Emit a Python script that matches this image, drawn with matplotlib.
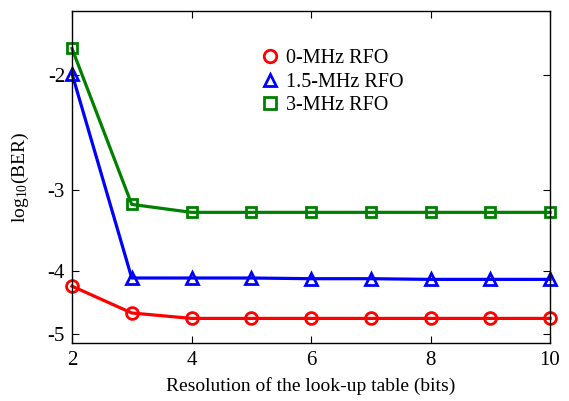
import numpy as np
import matplotlib
matplotlib.use("Agg")
import matplotlib.pyplot as plt
from matplotlib.lines import Line2D
from matplotlib.ticker import FixedLocator, NullLocator

plt.rcParams['font.family'] = ['Liberation Serif', 'DejaVu Serif']
plt.rcParams['mathtext.fontset'] = 'stix'

bits = [2, 3, 4, 5, 6, 7, 8, 9, 10]
ber_0mhz = [-4.22, -4.64, -4.73, -4.73, -4.73, -4.73, -4.73, -4.73, -4.73]
ber_15mhz = [-1.99, -4.10, -4.10, -4.10, -4.11, -4.11, -4.12, -4.12, -4.12]
ber_3mhz = [-1.82, -3.16, -3.25, -3.25, -3.25, -3.25, -3.25, -3.25, -3.25]
labels = ['0-MHz RFO', '1.5-MHz RFO', '3-MHz RFO']
yticks = [-5, -4, -3, -2]


# the y axis is spaced like log10(-y), with -2 on top
def fwd(y):
    return -np.log10(np.clip(-np.asarray(y, dtype=float), 1e-9, None))


def inv(t):
    return -10 ** (-np.asarray(t, dtype=float))


fig = plt.figure(figsize=(5.69, 4.01), dpi=100)
ax = fig.add_axes([72 / 569, 58 / 401, 478 / 569, 332 / 401])
ax.set_yscale('function', functions=(fwd, inv))

styles = [('r', 'o'), ('b', '^'), ('g', 's')]
series = [ber_0mhz, ber_15mhz, ber_3mhz]
green = '#008000'
for (c, m), vals in zip(styles, series):
    col = green if c == 'g' else c
    ax.plot(bits, vals, color=col, marker=m, markersize=8.5 if m != 's' else 7.5,
            markerfacecolor='none', markeredgewidth=2, linewidth=2.3, clip_on=False)

ax.set_xlim(2, 10)
ax.set_ylim(-5.16, -1.594)
ax.set_xticks([2, 4, 6, 8, 10])
ax.yaxis.set_major_locator(FixedLocator(yticks))
ax.yaxis.set_minor_locator(NullLocator())
ax.set_yticklabels([str(v) for v in yticks])
ax.tick_params(direction='in', top=True, right=True, labelsize=15, length=5, width=0.8)
ax.tick_params(axis='y', pad=5)
ax.tick_params(axis='x', pad=6)
for s in ax.spines.values():
    s.set_linewidth(1.0)

ax.set_xlabel('Resolution of the look-up table (bits)', fontsize=14, labelpad=5)
ax.set_ylabel(r'$\mathregular{log_{10}(BER)}$', fontsize=14, labelpad=12)

handles = [Line2D([], [], color=(green if c == 'g' else c), marker=m, linestyle='none',
                  markersize=9 if m != 's' else 8, markerfacecolor='none', markeredgewidth=2)
           for c, m in styles]
fig.legend(handles, labels, loc='upper left', bbox_to_anchor=(250 / 569, 1 - 39 / 401),
           frameon=False, fontsize=14.5, handlelength=1.0, handletextpad=0.3,
           labelspacing=0.22, borderpad=0)

fig.savefig('out.png', dpi=100)
